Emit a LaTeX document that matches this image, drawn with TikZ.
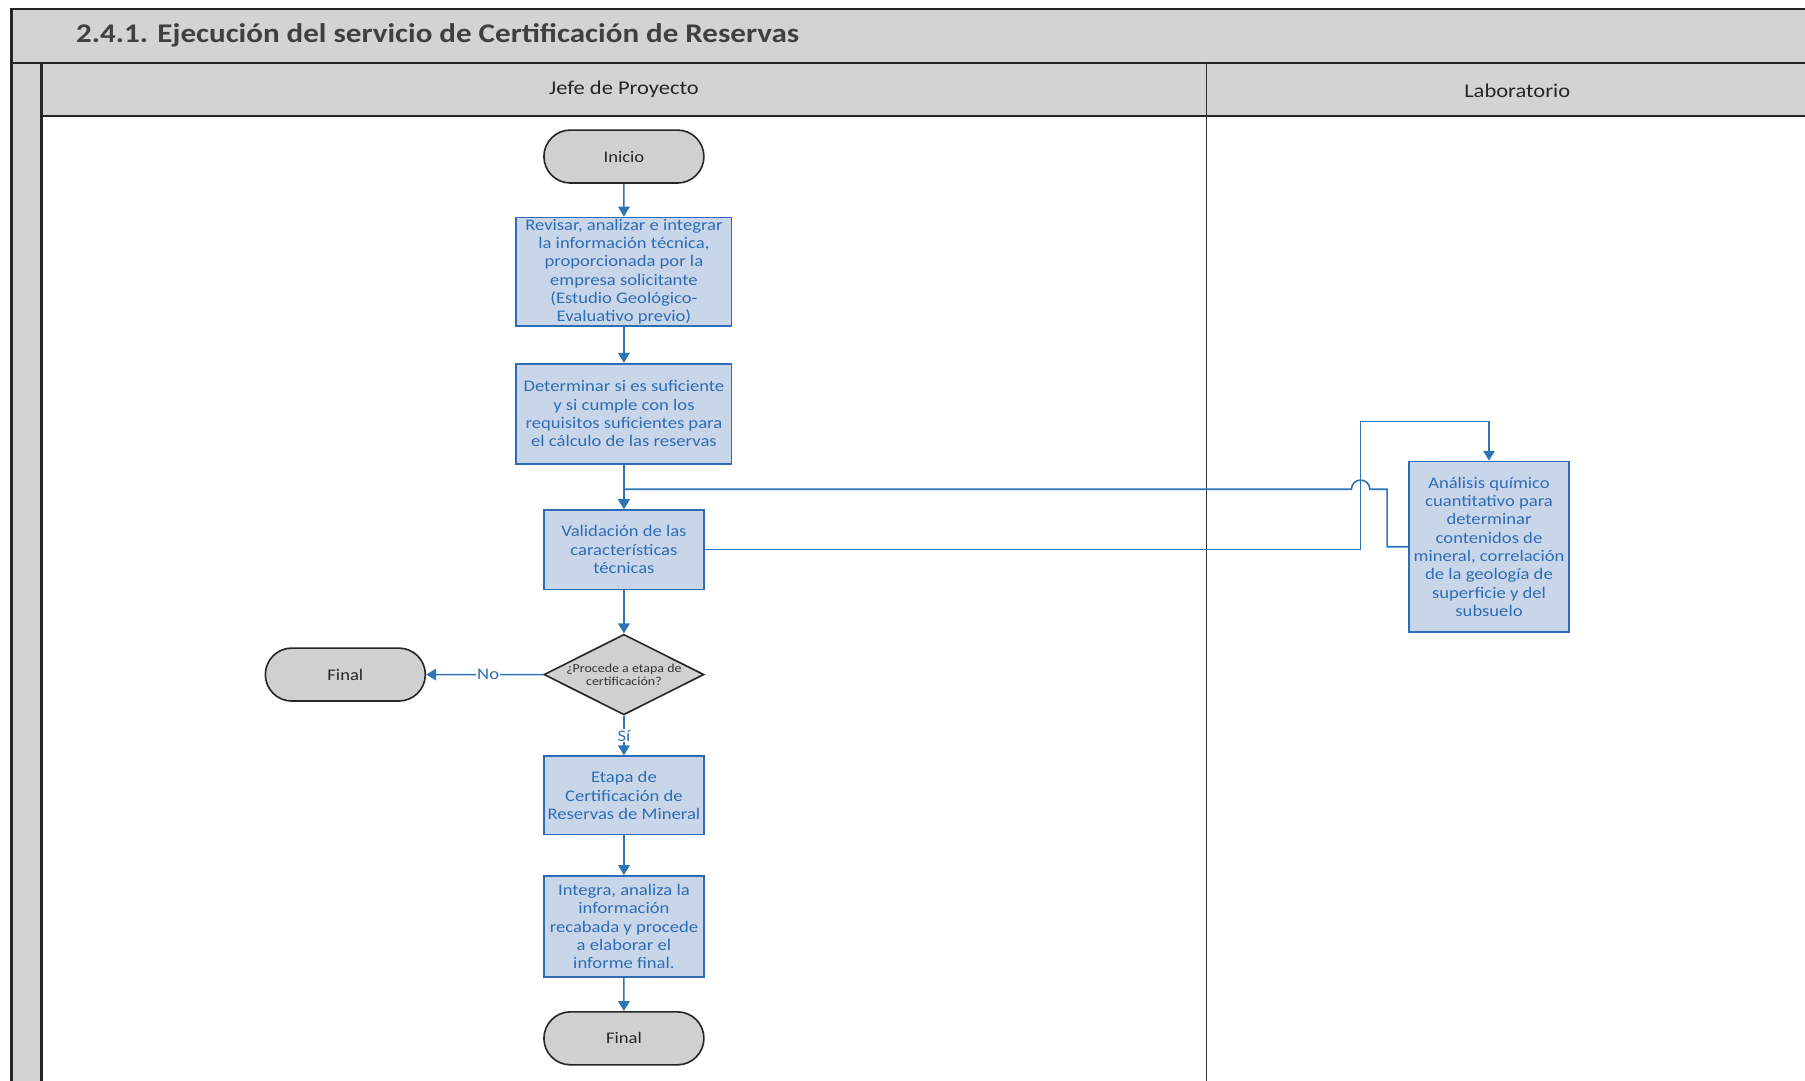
\documentclass[tikz,border=0pt]{standalone}
\usepackage{fontspec}
\setmainfont{Carlito}[FakeStretch=1.15]
\usepackage{xcolor}
\usetikzlibrary{arrows.meta,positioning,shapes.geometric,shapes.misc}
\definecolor{hdrgray}{HTML}{D3D3D3}
\definecolor{termgray}{HTML}{D0D0D0}
\definecolor{boxfill}{HTML}{C9D6EA}
\definecolor{boxline}{HTML}{2E6DB4}
\definecolor{flowblue}{HTML}{2E75B6}
\definecolor{titlegray}{HTML}{404040}
\tikzset{
  frame/.style={draw=black!85, line width=1.6pt},
  lane/.style={draw=black!80, line width=1pt},
  act/.style={rectangle, draw=boxline, fill=boxfill, line width=1.3pt,
    align=center, text=boxline, font=\fontsize{12}{13.6}\selectfont, inner sep=0pt},
  term/.style={rounded rectangle, draw=black!85, fill=termgray, line width=1.2pt,
    minimum width=41.7mm, minimum height=13.8mm, inner sep=0pt,
    font=\fontsize{12}{13.6}\selectfont, text=black!85},
  decision/.style={diamond, draw=black!85, fill=termgray, line width=1.2pt,
    minimum width=41.7mm, minimum height=21mm, inner sep=0pt, aspect=2,
    align=center, font=\fontsize{9}{9.8}\selectfont, text=black!80},
  flow/.style={draw=flowblue, line width=1.2pt,
    -{Triangle[length=2.6mm, width=3mm]}},
  lbl/.style={fill=white, inner sep=1pt, text=boxline, font=\fontsize{12}{13}\selectfont},
}
\begin{document}
\begin{tikzpicture}[x=0.3mm, y=-0.3mm]
\useasboundingbox (0,0) rectangle (1568,939);
\clip (0,0) rectangle (1568,939);
% Pool frame and lanes
\fill[hdrgray] (10,8) rectangle (1580,101);
\fill[hdrgray] (10,101) rectangle (36,950);
\draw[frame] (1580,8) -- (10,8) -- (10,950);
\draw[frame] (10,55) -- (1580,55);
\draw[frame] (36,55) -- (36,950);
\draw[frame] (36,101) -- (1580,101);
\draw[lane] (1048,55) -- (1048,950);
\node[anchor=west, text=titlegray, font=\fontsize{20}{24}\selectfont\bfseries]
  (title) at (62,31) {2.4.1. Ejecución del servicio de Certificación de Reservas};
\node[font=\fontsize{14.5}{17}\selectfont, text=black!85] (jefe) at (542,78) {Jefe de Proyecto};
\node[font=\fontsize{14.5}{17}\selectfont, text=black!85] (lab)  at (1318,79) {Laboratorio};
% Jefe de Proyecto lane
\node[term] (inicio) at (542,136) {Inicio};
\node[act, minimum width=56.1mm, minimum height=28.2mm] (revisar) at (542,236)
  {Revisar, analizar e integrar\\ la información técnica,\\ proporcionada por la\\
   empresa solicitante\\ (Estudio Geológico-\\ Evaluativo previo)};
\node[act, minimum width=56.1mm, minimum height=26.1mm] (determinar) at (542,359.5)
  {Determinar si es suficiente\\ y si cumple con los\\ requisitos suficientes para\\
   el cálculo de las reservas};
\node[act, minimum width=41.7mm, minimum height=20.7mm] (valida) at (542,477.5)
  {Validación de las\\ características\\ técnicas};
\node[decision] (procede) at (542,586) {¿Procede a etapa de\\ certificación?};
\node[term] (final1) at (300,586) {Final};
\node[act, minimum width=41.7mm, minimum height=20.4mm] (etapa) at (542,691)
  {Etapa de\\ Certificación de\\ Reservas de Mineral};
\node[act, minimum width=41.7mm, minimum height=26.4mm] (integra) at (542,805)
  {Integra, analiza la\\ información\\ recabada y procede\\ a elaborar el\\ informe final.};
\node[term] (final2) at (542,902) {Final};
% Laboratorio lane
\node[act, minimum width=41.7mm, minimum height=44.4mm] (analisis) at (1293.5,475)
  {Análisis químico\\ cuantitativo para\\ determinar\\ contenidos de\\
   mineral, correlación\\ de la geología de\\ superficie y del\\ subsuelo};
% Route points
\coordinate (upA)   at (1182,366);
\coordinate (retA)  at (1205,425);
\coordinate (jumpR) at (1190,425);
\coordinate (joinV) at (542,425);
% Connectors
\draw[flow] (inicio) -- (revisar);
\draw[flow] (revisar) -- (determinar);
\draw[flow] (determinar) -- (valida);
\draw[flow] (valida.east) -| (upA) -| (analisis.north);
\draw[flow] (analisis.west |- 0,475) -| (retA) -- (jumpR)
  arc[start angle=0, end angle=180, radius=2.4mm] -- (joinV) -- (valida.north);
\draw[flow] (valida) -- (procede);
\draw[flow] (procede) -- node[lbl, pos=0.47] {No} (final1);
\draw[flow] (procede) -- node[lbl, pos=0.5] {Sí} (etapa);
\draw[flow] (etapa) -- (integra);
\draw[flow] (integra) -- (final2);
\end{tikzpicture}
\end{document}
